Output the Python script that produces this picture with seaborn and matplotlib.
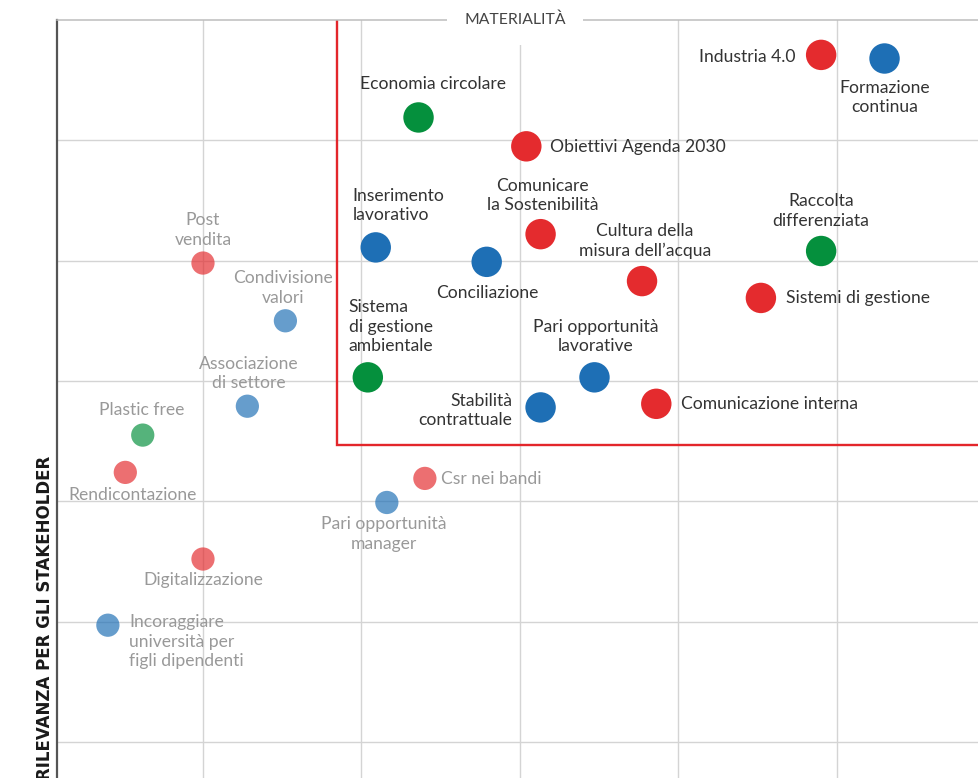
import numpy as np
import pandas as pd
import matplotlib
matplotlib.use("Agg")
import matplotlib.pyplot as plt
import seaborn as sns
from matplotlib import font_manager

# --- temi materiali (dentro il riquadro) ---
main_names = ["Industria 4.0", "Formazione\ncontinua", "Economia circolare",
              "Obiettivi Agenda 2030", "Comunicare\nla Sostenibilità",
              "Inserimento\nlavorativo", "Conciliazione",
              "Cultura della\nmisura dell’acqua", "Raccolta\ndifferenziata",
              "Sistemi di gestione", "Sistema\ndi gestione\nambientale",
              "Pari opportunità\nlavorative", "Stabilità\ncontrattuale",
              "Comunicazione interna"]
main_area = ["governance", "sociale", "ambiente", "governance", "governance",
             "sociale", "sociale", "governance", "ambiente", "governance",
             "ambiente", "sociale", "sociale", "governance"]
main_x = [4.90, 5.30, 2.36, 3.04, 3.13, 2.09, 2.79, 3.77, 4.90, 4.52, 2.04, 3.47, 3.13, 3.86]
main_y = [6.71, 6.68, 6.19, 5.95, 5.22, 5.11, 4.99, 4.83, 5.08, 4.69, 4.03, 4.03, 3.78, 3.81]

# --- temi non materiali ---
minor_names = ["Post\nvendita", "Condivisione\nvalori", "Associazione\ndi settore",
               "Plastic free", "Rendicontazione", "Csr nei bandi",
               "Pari opportunità\nmanager", "Digitalizzazione",
               "Incoraggiare\nuniversità per\nfigli dipendenti"]
minor_area = ["governance", "sociale", "sociale", "ambiente", "governance",
              "governance", "sociale", "governance", "sociale"]
minor_x = [1.00, 1.52, 1.28, 0.62, 0.51, 2.40, 2.16, 1.00, 0.40]
minor_y = [4.98, 4.50, 3.79, 3.55, 3.24, 3.19, 2.99, 2.52, 1.97]

# soglia di materialità
soglia_x = 1.845
soglia_y = 3.47

palette = {"governance": "#E42B2E", "sociale": "#1E6FB5", "ambiente": "#05903D"}

# posizione etichette: (dx px, dy px, ha, va)
label_pos = {
    "Industria 4.0": (-26, -2, "right", "center"),
    "Formazione\ncontinua": (0, -21, "center", "top"),
    "Economia circolare": (14, 25, "center", "bottom"),
    "Obiettivi Agenda 2030": (24, -1, "left", "center"),
    "Comunicare\nla Sostenibilità": (2, 21, "center", "bottom"),
    "Inserimento\nlavorativo": (-23, 24, "left", "bottom"),
    "Conciliazione": (1, -23, "center", "top"),
    "Cultura della\nmisura dell’acqua": (3, 22, "center", "bottom"),
    "Raccolta\ndifferenziata": (0, 22, "center", "bottom"),
    "Sistemi di gestione": (25, 0, "left", "center"),
    "Sistema\ndi gestione\nambientale": (-19, 23, "left", "bottom"),
    "Pari opportunità\nlavorative": (1, 23, "center", "bottom"),
    "Stabilità\ncontrattuale": (-28, -3, "right", "center"),
    "Comunicazione interna": (25, 0, "left", "center"),
    "Post\nvendita": (0, 15, "center", "bottom"),
    "Condivisione\nvalori": (-2, 15, "center", "bottom"),
    "Associazione\ndi settore": (1, 15, "center", "bottom"),
    "Plastic free": (-1, 17, "center", "bottom"),
    "Rendicontazione": (7, -15, "center", "top"),
    "Csr nei bandi": (16, -1, "left", "center"),
    "Pari opportunità\nmanager": (-3, -14, "center", "top"),
    "Digitalizzazione": (0, -13, "center", "top"),
    "Incoraggiare\nuniversità per\nfigli dipendenti": (21, 11, "left", "top"),
}

df_main = pd.DataFrame({"nome": main_names, "area": main_area, "x": main_x, "y": main_y})
df_minor = pd.DataFrame({"nome": minor_names, "area": minor_area, "x": minor_x, "y": minor_y})

sns.set_theme(style="white")
installed = {f.name for f in font_manager.fontManager.ttflist}
plt.rcParams["font.family"] = ["Lato", "DejaVu Sans"]

fig = plt.figure(figsize=(9.79, 7.78), dpi=100)
ax = fig.add_axes([57 / 979, 0, 922 / 979, 758 / 778])

ax.set_xlim(0.079, 5.896)
ax.set_ylim(0.70, 7.0)
ax.set_xticks([1, 2, 3, 4, 5])
ax.set_yticks([1, 2, 3, 4, 5, 6])
ax.grid(True, color="#d4d4d4", linewidth=1.0)
ax.set_axisbelow(True)
ax.tick_params(length=0, labelleft=False, labelbottom=False)
for side in ["right", "bottom"]:
    ax.spines[side].set_visible(False)
ax.spines["left"].set_color("#555555")
ax.spines["left"].set_linewidth(1.6)
ax.spines["top"].set_color("#bdbdbd")
ax.spines["top"].set_linewidth(1.1)

# riquadro rosso
ax.plot([soglia_x, soglia_x, 6.5], [7.0, soglia_y, soglia_y], color="#E3262B",
        linewidth=1.7, zorder=2, solid_joinstyle="miter")

sns.scatterplot(data=df_minor, x="x", y="y", hue="area", palette=palette, s=280,
                alpha=0.68, linewidth=0, legend=False, ax=ax, zorder=3)
sns.scatterplot(data=df_main, x="x", y="y", hue="area", palette=palette, s=480,
                linewidth=0, legend=False, ax=ax, zorder=4)
ax.set_xlabel("")
ax.set_ylabel("")

for df, col in [(df_main, "#333333"), (df_minor, "#999999")]:
    for _, r in df.iterrows():
        dx, dy, ha, va = label_pos[r["nome"]]
        ax.annotate(r["nome"], (r["x"], r["y"]), xytext=(dx, dy),
                    textcoords="offset pixels", ha=ha, va=va, fontsize=12.6,
                    color=col, linespacing=1.28, multialignment=ha,
                    zorder=5)

ax.text(0.497, 1.0, "MATERIALITÀ", transform=ax.transAxes, ha="center", va="center",
        fontsize=11.3, color="#444444", zorder=6,
        bbox=dict(boxstyle="square,pad=1.1", fc="white", ec="none"))

if "Liberation Sans Narrow" in installed:
    yfam, ysize = ["Liberation Sans Narrow", "DejaVu Sans"], 15.5
else:
    yfam, ysize = ["DejaVu Sans"], 12
fig.text(45 / 979, 1 - 456 / 778, "RILEVANZA PER GLI STAKEHOLDER", rotation=90,
         ha="center", va="top", fontsize=ysize, fontweight="bold", color="#1a1a1a",
         family=yfam)

fig.savefig("out.png", dpi=100)
